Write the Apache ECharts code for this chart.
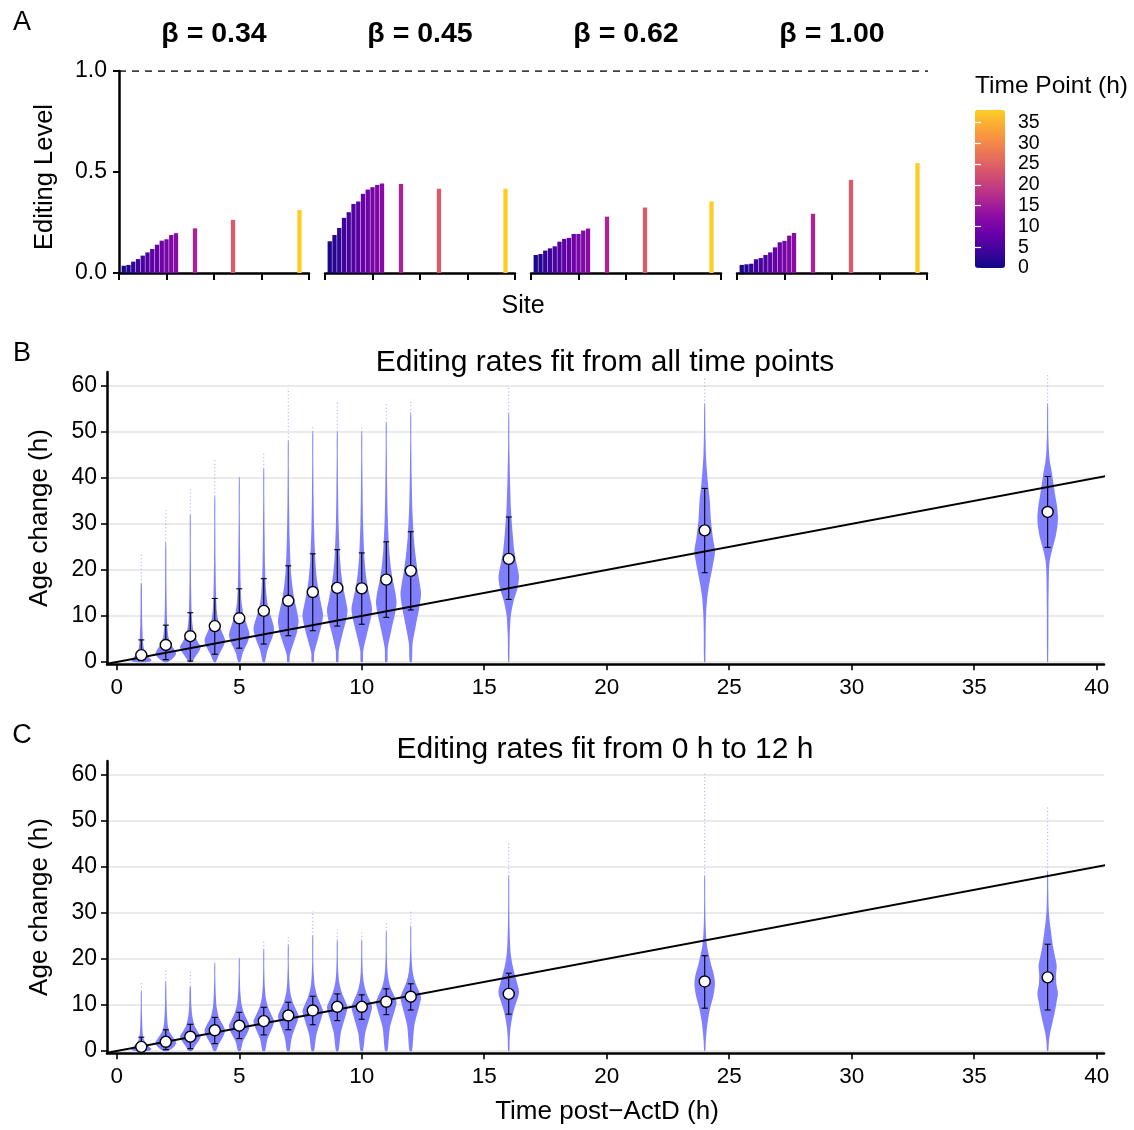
<!DOCTYPE html>
<html>
<head>
<meta charset="utf-8">
<script src="https://cdn.jsdelivr.net/npm/echarts@6/dist/echarts.min.js"></script>
<style>
  html, body { margin: 0; padding: 0; background: #fff; }
  #main { width: 1134px; height: 1130px; }
</style>
</head>
<body>
<div id="main"></div>
<script>
const FONT = '"Liberation Sans", Arial, Helvetica, sans-serif';

// ---------- Panel A: editing level per site (bars coloured by time point)
const betaLabels = ['β = 0.34', 'β = 0.45', 'β = 0.62', 'β = 1.00'];
const siteTimes = [1, 2, 3, 4, 5, 6, 7, 8, 9, 10, 11, 12, 16, 24, 38];
const editLevel034 = [0.036, 0.040, 0.056, 0.069, 0.086, 0.102, 0.119, 0.140, 0.160, 0.167, 0.188, 0.197, 0.221, 0.263, 0.312];
const editLevel045 = [0.157, 0.188, 0.223, 0.273, 0.301, 0.342, 0.354, 0.392, 0.413, 0.425, 0.436, 0.443, 0.441, 0.417, 0.417];
const editLevel062 = [0.089, 0.094, 0.111, 0.122, 0.132, 0.155, 0.169, 0.174, 0.193, 0.193, 0.210, 0.220, 0.279, 0.324, 0.354];
const editLevel100 = [0.040, 0.043, 0.046, 0.068, 0.074, 0.089, 0.102, 0.127, 0.152, 0.159, 0.185, 0.198, 0.293, 0.461, 0.544];
const editLevels = [editLevel034, editLevel045, editLevel062, editLevel100];
const colorbarTicks = [0, 5, 10, 15, 20, 25, 30, 35];
const plasma = ['#0d0887', '#41049d', '#6a00a8', '#8f0da4', '#b12a90', '#cc4778',
                '#e16462', '#f2844b', '#fca636', '#fcce25'];

// ---------- Panels B / C: age change per time point
const timePoints = [1, 2, 3, 4, 5, 6, 7, 8, 9, 10, 11, 12, 16, 24, 38];
const xTicks = [0, 5, 10, 15, 20, 25, 30, 35, 40];
const yTicks = [0, 10, 20, 30, 40, 50, 60];
const fitSlope = 1;            // fitted line y = x
const fitLineX = [-1, 42];

const medianB   = [1.5, 3.7, 5.6, 7.8, 9.5, 11.1, 13.3, 15.2, 16.1, 16.0, 17.9, 19.8, 22.4, 28.6, 32.6];
const errLowB   = [0.3, 0.5, 0.2, 1.7, 3.0, 3.9, 5.7, 6.8, 7.8, 8.2, 9.7, 11.3, 13.6, 19.4, 24.9];
const errHighB  = [4.8, 8.0, 10.7, 13.8, 15.9, 18.1, 20.9, 23.5, 24.4, 23.7, 26.1, 28.3, 31.5, 37.7, 40.3];
const tailMaxB  = [23.5, 33, 37.5, 44, 40.5, 45.5, 59.5, 51.5, 56.3, 51.2, 56.2, 57.1, 60, 62, 62.9];

const medianC   = [0.9, 2.0, 3.1, 4.5, 5.5, 6.5, 7.7, 8.8, 9.6, 9.6, 10.7, 11.8, 12.4, 15.1, 16.0];
const errLowC   = [0.1, 0.3, 0.5, 1.6, 2.7, 3.5, 4.6, 5.7, 6.6, 6.9, 7.9, 8.9, 8.0, 9.3, 8.9];
const errHighC  = [3.0, 4.6, 5.8, 7.3, 8.4, 9.5, 10.6, 11.9, 12.4, 12.2, 13.5, 14.6, 16.9, 20.7, 23.2];
const tailMaxC  = [15.2, 18, 17.4, 19.8, 20.7, 24, 25.3, 30.4, 26.4, 26.2, 28, 30.8, 45.2, 60.3, 53];

// violin outlines: [age change, relative half width] from bottom to top
const violinB = [
  [[0,0.7],[0.4,1],[1,0.75],[1.8,0.45],[3,0.25],[4.8,0.16],[8,0.1],[12,0.07],[17,0.05]],
  [[0,0.2],[0.8,0.7],[1.8,1],[2.8,0.8],[4,0.45],[5.5,0.25],[8,0.14],[12,0.09],[18,0.06],[26,0.04]],
  [[0,0.12],[1,0.45],[2.5,0.9],[3.3,1],[4.5,0.7],[6,0.4],[8,0.22],[11,0.13],[16,0.08],[24,0.05],[32,0.04]],
  [[0,0.1],[1.5,0.4],[3.5,0.85],[4.8,1],[6.5,0.7],[8.5,0.38],[11,0.2],[15,0.12],[22,0.07],[30,0.05],[36,0.04]],
  [[0,0.1],[2,0.35],[4.5,0.85],[6,1],[8,0.75],[10.5,0.4],[13,0.22],[17,0.13],[24,0.08],[32,0.05],[40,0.04]],
  [[0,0.1],[2.5,0.35],[5.5,0.85],[7.3,1],[9.5,0.75],[12,0.42],[15,0.24],[20,0.13],[28,0.08],[36,0.05],[42,0.04]],
  [[0,0.1],[1.5,0.15],[4,0.5],[6.5,0.85],[9,1],[11.5,0.8],[13.5,0.6],[16.5,0.4],[20,0.25],[27,0.13],[34,0.08],[42,0.05],[48,0.04]],
  [[0,0.1],[2,0.15],[5,0.5],[8,0.85],[10.2,1],[12.5,0.82],[15,0.6],[18,0.4],[22,0.25],[29,0.13],[36,0.08],[44,0.05],[50,0.04]],
  [[0,0.1],[2.5,0.15],[6,0.5],[9,0.85],[11.2,1],[13.5,0.82],[16,0.6],[19,0.4],[23,0.25],[30,0.13],[37,0.08],[45,0.05],[50,0.04]],
  [[0,0.1],[2.5,0.15],[6,0.5],[9.5,0.88],[11.6,1],[13.8,0.82],[16,0.6],[19,0.4],[23,0.25],[30,0.13],[37,0.08],[45,0.05],[50,0.04]],
  [[0,0.1],[3,0.15],[7,0.5],[10.5,0.85],[13,1],[15.5,0.85],[18,0.62],[21,0.42],[25,0.27],[32,0.14],[39,0.08],[47,0.05],[52,0.04]],
  [[0,0.1],[4,0.18],[8,0.5],[12,0.85],[14.8,1],[17,0.88],[20,0.65],[23.5,0.45],[27,0.3],[33,0.16],[40,0.09],[48,0.05],[54,0.04]],
  [[0,0.05],[6,0.1],[10,0.2],[13,0.45],[16,0.85],[18.5,1],[21,0.8],[24,0.55],[28,0.38],[33,0.22],[40,0.12],[47,0.06],[54,0.04]],
  [[0,0.06],[8,0.1],[11,0.15],[14,0.25],[17,0.45],[20.5,0.75],[24,1],[27,0.8],[31,0.6],[35,0.5],[38,0.35],[41.5,0.22],[45,0.12],[50,0.07],[56,0.04]],
  [[0,0.05],[12,0.08],[19,0.12],[22,0.2],[24.5,0.45],[27,0.75],[29.5,0.95],[31.5,1],[34,0.9],[36,0.75],[39,0.55],[41.5,0.38],[43.5,0.22],[46,0.12],[50,0.06],[56,0.04]]
];
const violinC = [
  [[0,0.7],[0.4,1],[1,0.75],[1.8,0.4],[2.8,0.2],[4.5,0.12],[7,0.08],[10,0.05],[13,0.04]],
  [[0,0.25],[0.8,0.75],[1.8,1],[2.8,0.75],[4,0.4],[5.5,0.2],[8,0.11],[11,0.07],[15,0.04]],
  [[0,0.15],[1.2,0.5],[2.5,0.9],[3.2,1],[4.3,0.7],[5.6,0.4],[7.5,0.2],[10,0.1],[14,0.05]],
  [[0,0.12],[1.5,0.4],[3.3,0.85],[4.5,1],[5.8,0.75],[7.3,0.4],[9.5,0.18],[12,0.1],[16,0.05],[19,0.04]],
  [[0,0.12],[2,0.35],[4.2,0.85],[5.5,1],[6.8,0.75],[8.4,0.42],[10.5,0.2],[13,0.1],[17,0.05],[20,0.04]],
  [[0,0.12],[2.5,0.35],[5.2,0.85],[6.5,1],[7.8,0.75],[9.5,0.42],[11.5,0.2],[14,0.1],[18,0.05],[22,0.04]],
  [[0,0.12],[3,0.35],[6.2,0.85],[7.6,1],[9,0.75],[10.7,0.42],[12.7,0.2],[15,0.1],[19,0.05],[23,0.04]],
  [[0,0.12],[3.5,0.35],[7.2,0.85],[8.7,1],[10.2,0.75],[12,0.42],[14,0.2],[16.5,0.1],[20,0.05],[25,0.04]],
  [[0,0.12],[4,0.35],[8,0.85],[9.5,1],[11,0.75],[12.8,0.42],[14.8,0.2],[17,0.1],[21,0.05],[24,0.04]],
  [[0,0.12],[4,0.35],[8,0.85],[9.6,1],[11.1,0.75],[12.8,0.42],[14.8,0.2],[17,0.1],[21,0.05],[24,0.04]],
  [[0,0.12],[5,0.35],[9,0.85],[10.6,1],[12.1,0.75],[13.8,0.42],[15.8,0.2],[18,0.1],[22,0.05],[26,0.04]],
  [[0,0.12],[5.5,0.35],[10,0.85],[11.7,1],[13.2,0.75],[15,0.42],[17,0.2],[19.5,0.1],[23,0.05],[27,0.04]],
  [[0,0.06],[3,0.1],[5.5,0.2],[8,0.4],[10,0.65],[12,0.95],[13,1],[14.5,0.85],[16.5,0.6],[18.5,0.38],[21,0.2],[24,0.12],[28,0.07],[33,0.05],[38,0.04]],
  [[0,0.05],[2,0.1],[4,0.17],[6.5,0.3],[9.5,0.55],[12,0.85],[14.5,1],[16.5,0.9],[18.5,0.65],[20.5,0.45],[22.5,0.25],[25,0.14],[28,0.08],[33,0.05],[38,0.04]],
  [[0,0.06],[2,0.12],[4,0.25],[6,0.45],[8.5,0.7],[11,0.9],[12.5,1],[14.5,0.85],[16.5,0.82],[18.5,0.88],[20.5,0.72],[23,0.5],[26,0.32],[28.5,0.18],[31,0.1],[35,0.06],[39,0.04]]
];

const VIOLIN_COLOR = '#8080ff';
const HALF_WIDTH = 0.42; // in hours

// ---------- layout
const panelLeft = [119, 325, 531, 737];
const panelWidth = 190;
const aTop = 71, aHeight = 202;
const bTop = 372, cTop = 761, bcHeight = 292.3;

const grids = [];
const xAxes = [];
const yAxes = [];
const series = [];

// panel A grids
panelLeft.forEach((left, i) => {
  grids.push({ left: left, top: aTop, width: panelWidth, height: aHeight });
  xAxes.push({
    type: 'value', gridIndex: i, min: 0, max: 40, interval: 10,
    axisLine: { lineStyle: { color: '#000', width: 2.5 } },
    axisTick: { length: 7, lineStyle: { color: '#000', width: 2 } },
    axisLabel: { show: false }, splitLine: { show: false }
  });
  yAxes.push({
    type: 'value', gridIndex: i, min: 0, max: 1, interval: 0.5, show: i === 0,
    axisLine: { show: true, onZero: false, lineStyle: { color: '#000', width: 2.5 } },
    axisTick: { show: true, length: 6, lineStyle: { color: '#000', width: 2 } },
    axisLabel: { fontSize: 23, color: '#000', margin: 12, fontFamily: FONT,
                 formatter: v => v.toFixed(1) },
    splitLine: { show: false }
  });
  series.push({
    type: 'bar', xAxisIndex: i, yAxisIndex: i, barWidth: 4.3,
    data: editLevels[i].map((v, k) => [siteTimes[k], v, siteTimes[k]]),
    silent: true
  });
});

// dashed reference line at 1.0 across all A panels
grids.push({ left: 119, top: aTop, width: 809, height: aHeight });
xAxes.push({ type: 'value', gridIndex: 4, min: 0, max: 1, show: false });
yAxes.push({ type: 'value', gridIndex: 4, min: 0, max: 1, show: false });
series.push({
  type: 'line', xAxisIndex: 4, yAxisIndex: 4, symbol: 'none', silent: true,
  data: [[0, 1], [1, 1]],
  lineStyle: { color: '#000', width: 1.6, type: [7, 6] }
});

// colour bar axes
grids.push({ left: 975, top: 110, width: 30, height: 158 });
xAxes.push({ type: 'value', gridIndex: 5, min: 0, max: 1, show: false });
[['right', true], ['left', false]].forEach(([pos, labels]) => {
  yAxes.push({
    type: 'value', gridIndex: 5, min: 0, max: 38, position: pos, z: 10,
    axisLine: { show: false },
    axisTick: { show: true, inside: true, length: 6, customValues: colorbarTicks,
                lineStyle: { color: '#fff', width: 1.2 } },
    axisLabel: { show: labels, customValues: colorbarTicks, fontSize: 19.5, color: '#000',
                 margin: 13, fontFamily: FONT },
    splitLine: { show: false }
  });
});

// panels B and C
function addAgePanel(top, gridIdx, yIdx, profiles, median, low, high, tails) {
  grids.push({ left: 107, top: top, width: 997, height: bcHeight });
  xAxes.push({
    type: 'value', gridIndex: gridIdx, min: -0.4, max: 40.3,
    axisLine: { onZero: false, lineStyle: { color: '#000', width: 2.5 } },
    axisTick: { length: 6, customValues: xTicks, lineStyle: { color: '#000', width: 1.6 } },
    axisLabel: { customValues: xTicks, fontSize: 22.5, color: '#000', margin: 12, fontFamily: FONT },
    splitLine: { show: false }
  });
  yAxes.push({
    type: 'value', gridIndex: gridIdx, min: -0.5, max: 63,
    axisLine: { show: true, onZero: false, lineStyle: { color: '#000', width: 2.5 } },
    axisTick: { show: true, length: 6, customValues: yTicks, lineStyle: { color: '#000', width: 1.6 } },
    axisLabel: { customValues: yTicks, fontSize: 23, color: '#000', margin: 10, fontFamily: FONT },
    splitLine: { show: true, lineStyle: { color: '#e3e3e3', width: 1.6 } }
  });
  const xIdx = gridIdx;

  // violins with thin point tails
  series.push({
    type: 'custom', xAxisIndex: xIdx, yAxisIndex: yIdx, silent: true, z: 3,
    data: timePoints.map((t, i) => [t, tails[i]]),
    encode: { x: 0, y: 1 },
    renderItem: function (params, api) {
      const i = params.dataIndex;
      const t = api.value(0);
      const prof = profiles[i];
      const right = prof.map(p => api.coord([t + p[1] * HALF_WIDTH, p[0]]));
      const left = prof.map(p => api.coord([t - p[1] * HALF_WIDTH, p[0]])).reverse();
      const topY = prof[prof.length - 1][0];
      const a = api.coord([t, topY]);
      const b = api.coord([t, api.value(1)]);
      return {
        type: 'group',
        children: [
          { type: 'line', shape: { x1: a[0], y1: a[1], x2: b[0], y2: b[1] },
            style: { stroke: 'rgba(128,128,255,0.75)', lineWidth: 1, lineDash: [1, 2.5] } },
          { type: 'polygon', shape: { points: right.concat(left), smooth: 0.25 },
            style: { fill: VIOLIN_COLOR, stroke: null } }
        ]
      };
    }
  });

  // fitted line
  series.push({
    type: 'line', xAxisIndex: xIdx, yAxisIndex: yIdx, symbol: 'none', silent: true, z: 4,
    clip: true,
    data: fitLineX.map(x => [x, fitSlope * x]),
    lineStyle: { color: '#000', width: 2 }
  });

  // error bars
  series.push({
    type: 'custom', xAxisIndex: xIdx, yAxisIndex: yIdx, silent: true, z: 5,
    data: timePoints.map((t, i) => [t, low[i], high[i]]),
    encode: { x: 0, y: [1, 2] },
    renderItem: function (params, api) {
      const lo = api.coord([api.value(0), api.value(1)]);
      const hi = api.coord([api.value(0), api.value(2)]);
      const cap = 3;
      const st = { stroke: '#000', lineWidth: 1.1 };
      return {
        type: 'group',
        children: [
          { type: 'line', shape: { x1: lo[0], y1: lo[1], x2: hi[0], y2: hi[1] }, style: st },
          { type: 'line', shape: { x1: lo[0] - cap, y1: lo[1], x2: lo[0] + cap, y2: lo[1] }, style: st },
          { type: 'line', shape: { x1: hi[0] - cap, y1: hi[1], x2: hi[0] + cap, y2: hi[1] }, style: st }
        ]
      };
    }
  });

  // median points
  series.push({
    type: 'scatter', xAxisIndex: xIdx, yAxisIndex: yIdx, silent: true, z: 6,
    symbolSize: 11,
    data: timePoints.map((t, i) => [t, median[i]]),
    itemStyle: { color: '#fff', borderColor: '#000', borderWidth: 1.4, opacity: 1 }
  });
}

addAgePanel(bTop, 6, 7, violinB, medianB, errLowB, errHighB, tailMaxB);
addAgePanel(cTop, 7, 8, violinC, medianC, errLowC, errHighC, tailMaxC);

function label(text, x, y, size, opts) {
  return Object.assign({
    type: 'text', x: x, y: y, silent: true,
    style: { text: text, font: (opts && opts.weight ? opts.weight + ' ' : '') + size + 'px ' + FONT,
             fill: '#000', align: (opts && opts.align) || 'center', verticalAlign: 'middle' }
  }, opts && opts.rotation ? { rotation: opts.rotation } : {});
}

const graphics = [
  label('A', 22, 23, 27),
  label('B', 22, 354, 27),
  label('C', 22, 736, 27),
  label('Editing Level', 45, 177, 25.5, { rotation: Math.PI / 2 }),
  label('Site', 523, 306, 25),
  label('Time Point (h)', 975, 86, 24.5, { align: 'left' }),
  label('Editing rates fit from all time points', 605, 363, 30),
  label('Editing rates fit from 0 h to 12 h', 605, 750, 30),
  label('Age change (h)', 40, 518, 26, { rotation: Math.PI / 2 }),
  label('Age change (h)', 40, 907, 26, { rotation: Math.PI / 2 }),
  label('Time post\u2212ActD (h)', 607, 1112, 26)
];
betaLabels.forEach((b, i) => {
  graphics.push(label(b, panelLeft[i] + panelWidth / 2, 34, 28.5, { weight: 'bold' }));
});

const option = {
  animation: false,
  backgroundColor: '#fff',
  textStyle: { fontFamily: FONT },
  grid: grids,
  xAxis: xAxes,
  yAxis: yAxes,
  visualMap: {
    type: 'continuous', min: 0, max: 38, dimension: 2, seriesIndex: [0, 1, 2, 3],
    orient: 'vertical', left: 975, top: 110, itemWidth: 30, itemHeight: 158,
    calculable: false, hoverLink: false, padding: 0, z: 2,
    inRange: { color: plasma }
  },
  graphic: graphics,
  series: series
};

const chart = echarts.init(document.getElementById('main'));
chart.setOption(option);
</script>
</body>
</html>
